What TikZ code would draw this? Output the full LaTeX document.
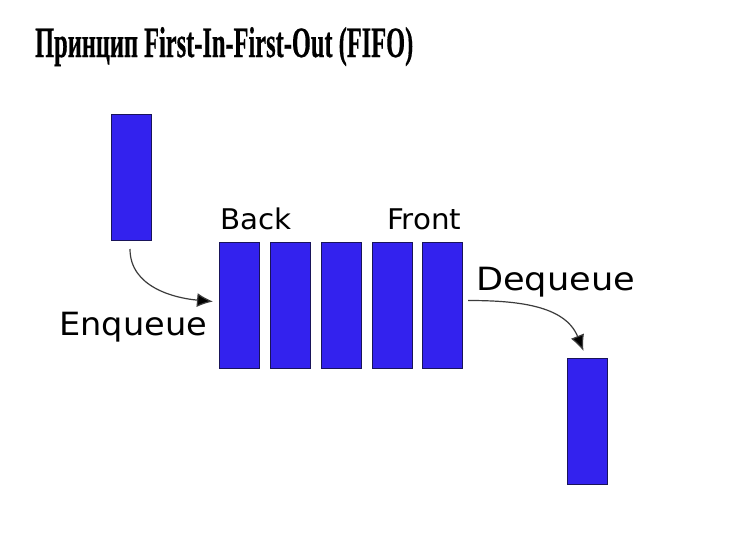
\documentclass[tikz,border=0pt]{standalone}
\usepackage{fontspec}
\usepackage{graphicx}
\setmainfont{Liberation Serif}
\newfontfamily\titlefont[FakeBold=0.6]{Liberation Serif Bold}
\newfontfamily\labelfont{DejaVu Sans}
\usetikzlibrary{arrows.meta}
\definecolor{boxfill}{RGB}{51,34,238}
\definecolor{boxline}{RGB}{25,20,90}
\definecolor{arrowcol}{RGB}{60,60,60}
\tikzset{
  qbox/.style={draw=boxline, fill=boxfill, line width=1pt, inner sep=0pt,
    minimum width=40pt, minimum height=126pt, anchor=north west},
  lbl/.style={inner sep=0pt, anchor=base west, font=\labelfont},
  flow/.style={draw=arrowcol, line width=1.2pt, -{Latex[length=16pt,width=14pt,fill=black]}},
}
\begin{document}
\begin{tikzpicture}[x=1pt,y=-1pt]
\path[use as bounding box, fill=white] (0,0) rectangle (753,538);
% title
\node[inner sep=0pt, anchor=base west] (title) at (35,57)
  {\resizebox{378pt}{30pt}{\titlefont Принцип First-In-First-Out (FIFO)}};
% boxes
\node[qbox] (r0) at (111,114) {};
\node[qbox] (q1) at (219,242) {};
\node[qbox] (q2) at (270,242) {};
\node[qbox] (q3) at (321,242) {};
\node[qbox] (q4) at (372,242) {};
\node[qbox] (q5) at (422,242) {};
\node[qbox] (r6) at (567,358) {};
% labels
\node[lbl] (back) at (220,229) {\scalebox{1.03}[1]{\fontsize{28.5}{30}\selectfont Back}};
\node[lbl] (front) at (387,229) {\scalebox{1.03}[1]{\fontsize{28.5}{30}\selectfont Front}};
\node[lbl] (enq) at (59,335) {\scalebox{1.05}[1]{\fontsize{32}{34}\selectfont Enqueue}};
\node[lbl] (deq) at (476,290) {\scalebox{1.1}[1]{\fontsize{32}{34}\selectfont Dequeue}};
% arrows
\draw[flow] ([xshift=-1.5pt,yshift=-8pt]r0.south) to[out=-90,in=175] ([xshift=-6pt,yshift=4pt]q1.west);
\draw[flow] ([xshift=5pt,yshift=5pt]q5.east) to[out=0,in=112] ([xshift=-4pt,yshift=7pt]r6.north);
\end{tikzpicture}
\end{document}
